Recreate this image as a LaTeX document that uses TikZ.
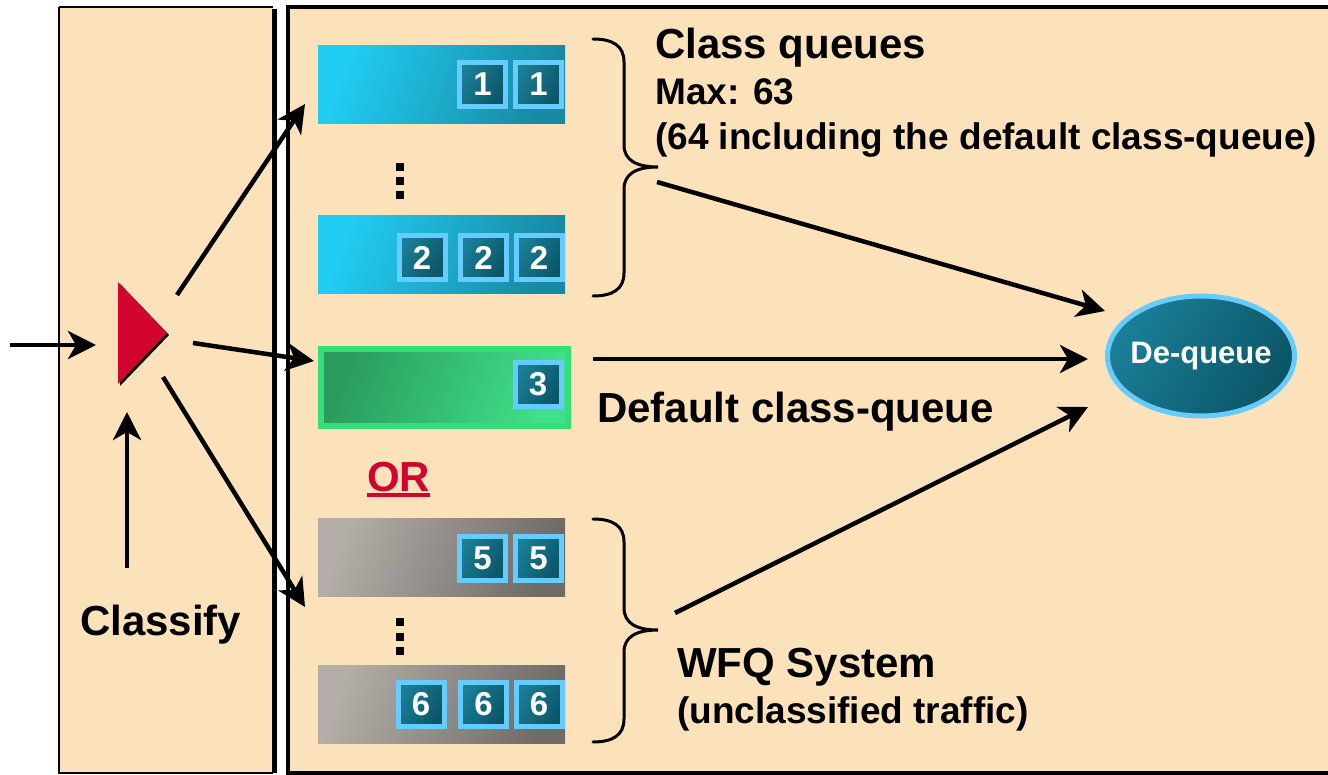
\documentclass[tikz,border=0pt]{standalone}
\usepackage{fontspec}
\setmainfont{Liberation Sans}
\usetikzlibrary{arrows.meta,shapes.geometric,calc}

\definecolor{panel}{HTML}{FCE2BB}
\definecolor{cyanA}{HTML}{22CDF4}
\definecolor{cyanB}{HTML}{178AA3}
\definecolor{greyA}{HTML}{B3AEA8}
\definecolor{greyB}{HTML}{6F6B67}
\definecolor{greenEdge}{HTML}{34DE78}
\definecolor{greenA}{HTML}{2A9C5C}
\definecolor{greenB}{HTML}{40E08A}
\definecolor{pktEdge}{HTML}{66CCFF}
\definecolor{pktA}{HTML}{1A7F98}
\definecolor{pktB}{HTML}{0B5566}
\definecolor{classRed}{HTML}{D0042C}

\tikzset{
  queue/.style={anchor=north west, inner sep=0pt, minimum width=247pt, minimum height=78pt},
  cyanq/.style={queue, left color=cyanA, right color=cyanB, shading angle=70},
  greyq/.style={queue, left color=greyA, right color=greyB, shading angle=70},
  packet/.style={draw=pktEdge, line width=5pt, minimum width=46pt, minimum height=44pt,
    inner sep=0pt, left color=pktA, right color=pktB, shading angle=60,
    text=white, font=\fontsize{33}{36}\selectfont\bfseries},
  flow/.style={line width=4.5pt, -{Stealth[length=28pt,width=28pt,inset=8pt]}},
  brace/.style={line width=3pt, line cap=round},
  bigtext/.style={anchor=base west, inner sep=0pt, font=\fontsize{42}{48}\selectfont\bfseries},
  midtext/.style={anchor=base west, inner sep=0pt, font=\fontsize{37}{42}\selectfont\bfseries},
  dot/.style={fill=black, minimum size=8pt, inner sep=0pt},
}

\begin{document}
\begin{tikzpicture}[x=1pt,y=-1pt]
\useasboundingbox (0,0) rectangle (1328,775);

% panels
\fill[panel] (59,7) rectangle (273,773);
\draw[line width=2.5pt] (59,7) -- (273,7);
\draw[line width=2.5pt] (59,7) -- (59,773) -- (273,773);
\draw[line width=5pt] (274.5,9) -- (274.5,773);
\fill[panel] (288,7) rectangle (1328,773);
\draw[line width=3.5pt] (1328,7) -- (288,7) -- (288,773) -- (1328,773);

% class queues
\node[cyanq] (q1) at (318,45) {};
\node[packet] (p11) at (482.5,84.5) {1};
\node[packet] (p12) at (538.5,84.5) {1};

\node[dot] (d1) at (400,167) {};
\node[dot] (d2) at (400,181) {};
\node[dot] (d3) at (400,195) {};

\node[cyanq] (q2) at (318,215) {};
\node[packet] (p21) at (422,257.5) {2};
\node[packet] (p22) at (483.5,257.5) {2};
\node[packet] (p23) at (539,257.5) {2};

% default class queue
\node[anchor=north west, inner sep=0pt, minimum width=247pt, minimum height=77pt,
      draw=greenEdge, line width=6pt, left color=greenA, right color=greenB,
      shading angle=70] (q3) at (318,346) {};
\node[packet] (p31) at (538,384.5) {3};

% WFQ queues
\node[greyq] (q5) at (318,518) {};
\node[packet] (p51) at (482.5,558) {5};
\node[packet] (p52) at (538.5,558) {5};

\node[dot] (d4) at (400,622) {};
\node[dot] (d5) at (400,637) {};
\node[dot] (d6) at (400,651) {};

\node[greyq] (q6) at (318,665) {};
\node[packet] (p61) at (421,704) {6};
\node[packet] (p62) at (483.5,704) {6};
\node[packet] (p63) at (539,704) {6};

% braces
\draw[brace] (593,39) .. controls (613,39) and (624,46) .. (624,62) -- (624,145)
  .. controls (624,160) and (636,167) .. (658,167)
  .. controls (636,167) and (624,174) .. (624,189) -- (624,273)
  .. controls (624,289) and (613,296) .. (593,296);
\draw[brace] (593,519) .. controls (613,519) and (624,526) .. (624,542) -- (624,608)
  .. controls (624,623) and (636,630) .. (658,630)
  .. controls (636,630) and (624,637) .. (624,652) -- (624,719)
  .. controls (624,735) and (613,742) .. (593,742);

% classifier
\fill[black] (120,284) -- (169,335) -- (120,386) -- cycle;
\fill[classRed] (118,282) -- (167,333) -- (118,384) -- cycle;

% de-queue
\node[ellipse, draw=pktEdge, line width=5pt, minimum width=187pt, minimum height=120pt,
      inner sep=0pt, left color=pktA, right color=pktB, shading angle=60] (dq) at (1201,356) {};
\node[text=white, font=\fontsize{31}{34}\selectfont\bfseries] (dqt) at (dq.center) {De-queue};

% connector end points
\coordinate (inS) at (10,345);
\coordinate (inE) at (96,345);
\coordinate (clS) at (127,568);
\coordinate (clE) at (127,412);
\coordinate (a1S) at (177,295);
\coordinate (a1E) at (305,104);
\coordinate (a3S) at (193,343);
\coordinate (a3E) at (314,361);
\coordinate (a5S) at (163,377);
\coordinate (a5E) at (305,607);
\coordinate (b1S) at (657,182);
\coordinate (b1E) at (1105,311);
\coordinate (b3S) at (593,359);
\coordinate (b3E) at (1088,359);
\coordinate (b5S) at (675,613);
\coordinate (b5E) at (1088,407);

% connectors
\draw[flow] (inS) -- (inE);
\draw[flow] (clS) -- (clE);
\draw[flow] (a1S) -- (a1E);
\draw[flow] (a3S) -- (a3E);
\draw[flow] (a5S) -- (a5E);
\draw[flow] (b1S) -- (b1E);
\draw[flow] (b3S) -- (b3E);
\draw[flow] (b5S) -- (b5E);

% labels
\node[bigtext] (t1) at (655,59) {Class queues};
\node[midtext] (t2) at (655,105) {Max: 63};
\node[midtext] (t3) at (655,150) {(64 including the default class-queue)};
\node[bigtext] (t4) at (597,423) {Default class-queue};
\node[bigtext, text=classRed] (t5) at (367,491) {OR};
\fill[classRed] (367,493) rectangle (430,497);
\node[bigtext] (t6) at (80,635) {Classify};
\node[bigtext] (t7) at (677,677) {WFQ System};
\node[midtext] (t8) at (677,723) {(unclassified traffic)};
\end{tikzpicture}
\end{document}
